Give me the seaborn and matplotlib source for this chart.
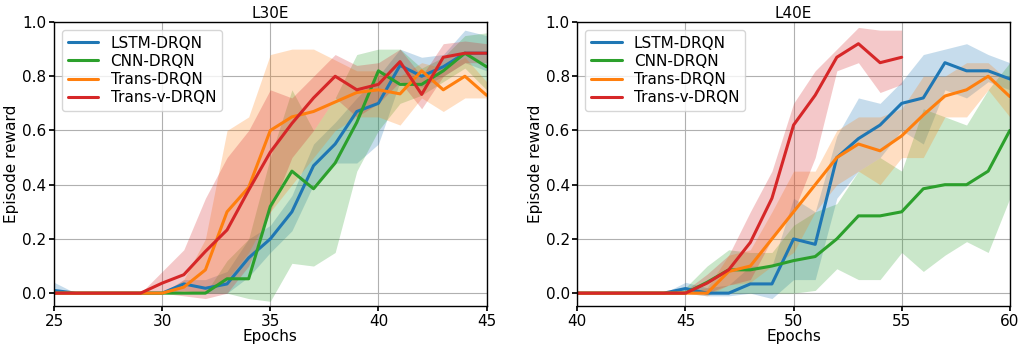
import numpy as np
import pandas as pd
import matplotlib
matplotlib.use("Agg")
import matplotlib.pyplot as plt
import seaborn as sns

# ---------------- data ----------------
series_names = ["LSTM-DRQN", "CNN-DRQN", "Trans-DRQN", "Trans-v-DRQN"]
series_colors = ["#1f77b4", "#2ca02c", "#ff7f0e", "#d62728"]

# L30E, epochs 25..45
epochs_l30 = list(range(25, 46))
lstm_l30 = [0.01, 0, 0, 0, 0, 0, 0.034, 0.018, 0.034, 0.13, 0.20, 0.30, 0.47, 0.55, 0.67, 0.70, 0.84, 0.80, 0.835, 0.885, 0.885]
lstm_l30_lo = [0.0, 0, 0, 0, 0, 0, 0.01, 0.0, 0.0, 0.06, 0.15, 0.23, 0.40, 0.48, 0.48, 0.55, 0.78, 0.76, 0.80, 0.85, 0.82]
lstm_l30_hi = [0.04, 0, 0, 0, 0, 0, 0.05, 0.05, 0.08, 0.20, 0.25, 0.36, 0.55, 0.63, 0.72, 0.80, 0.90, 0.87, 0.88, 0.97, 0.95]
cnn_l30 = [0, 0, 0, 0, 0, 0, 0, 0, 0.053, 0.053, 0.32, 0.45, 0.385, 0.48, 0.63, 0.82, 0.77, 0.77, 0.82, 0.885, 0.835]
cnn_l30_lo = [0, 0, 0, 0, 0, 0, 0, 0, 0.0, -0.02, -0.03, 0.11, 0.10, 0.15, 0.45, 0.60, 0.70, 0.73, 0.78, 0.83, 0.75]
cnn_l30_hi = [0, 0, 0, 0, 0, 0, 0, 0, 0.12, 0.20, 0.50, 0.75, 0.60, 0.72, 0.88, 0.90, 0.90, 0.83, 0.87, 0.95, 0.96]
trans_l30 = [0, 0, 0, 0, 0, 0, 0.022, 0.086, 0.30, 0.39, 0.60, 0.65, 0.67, 0.705, 0.74, 0.75, 0.735, 0.82, 0.75, 0.80, 0.73]
trans_l30_lo = [0, 0, 0, 0, 0, 0, 0.0, 0.0, 0.05, 0.15, 0.30, 0.40, 0.50, 0.60, 0.65, 0.65, 0.62, 0.72, 0.67, 0.72, 0.72]
trans_l30_hi = [0, 0, 0, 0, 0, 0, 0.05, 0.20, 0.60, 0.65, 0.88, 0.90, 0.90, 0.86, 0.82, 0.82, 0.80, 0.85, 0.83, 0.87, 0.78]
transv_l30 = [0, 0, 0, 0, 0, 0.037, 0.068, 0.154, 0.233, 0.38, 0.52, 0.626, 0.72, 0.80, 0.75, 0.77, 0.854, 0.733, 0.87, 0.885, 0.885]
transv_l30_lo = [0, 0, 0, 0, 0, 0.0, -0.01, -0.02, 0.0, 0.10, 0.30, 0.50, 0.60, 0.72, 0.65, 0.70, 0.78, 0.68, 0.80, 0.85, 0.85]
transv_l30_hi = [0, 0, 0, 0, 0, 0.08, 0.16, 0.35, 0.50, 0.60, 0.75, 0.72, 0.80, 0.88, 0.84, 0.85, 0.90, 0.80, 0.92, 0.93, 0.92]

# L40E, epochs 40..60 (Trans-v-DRQN ends at 55)
epochs_l40 = list(range(40, 61))
epochs_l40_transv = list(range(40, 56))
lstm_l40 = [0, 0, 0, 0, 0, 0.017, 0.0, 0.0, 0.034, 0.034, 0.20, 0.18, 0.50, 0.57, 0.62, 0.70, 0.72, 0.85, 0.82, 0.82, 0.79]
lstm_l40_lo = [0, 0, 0, 0, 0, 0.0, -0.01, -0.01, 0.0, -0.02, 0.05, 0.05, 0.35, 0.45, 0.50, 0.60, 0.55, 0.75, 0.72, 0.78, 0.75]
lstm_l40_hi = [0, 0, 0, 0, 0, 0.04, 0.02, 0.03, 0.10, 0.10, 0.35, 0.30, 0.58, 0.72, 0.70, 0.78, 0.88, 0.90, 0.92, 0.88, 0.85]
cnn_l40 = [0, 0, 0, 0, 0, 0, 0.04, 0.086, 0.086, 0.10, 0.12, 0.135, 0.20, 0.285, 0.285, 0.30, 0.385, 0.40, 0.40, 0.45, 0.60]
cnn_l40_lo = [0, 0, 0, 0, 0, 0, 0.0, 0.0, 0.0, 0.0, 0.0, 0.01, 0.09, 0.05, 0.05, 0.15, 0.08, 0.14, 0.19, 0.15, 0.35]
cnn_l40_hi = [0, 0, 0, 0, 0, 0.02, 0.10, 0.16, 0.15, 0.15, 0.25, 0.30, 0.33, 0.45, 0.50, 0.45, 0.68, 0.65, 0.62, 0.75, 0.85]
trans_l40 = [0, 0, 0, 0, 0, 0, 0.0, 0.08, 0.10, 0.20, 0.30, 0.40, 0.50, 0.55, 0.525, 0.58, 0.657, 0.727, 0.75, 0.80, 0.725]
trans_l40_lo = [0, 0, 0, 0, 0, 0, -0.01, 0.03, 0.04, 0.10, 0.15, 0.30, 0.40, 0.45, 0.40, 0.50, 0.50, 0.65, 0.65, 0.75, 0.65]
trans_l40_hi = [0, 0, 0, 0, 0, 0, 0.02, 0.14, 0.16, 0.30, 0.45, 0.45, 0.60, 0.65, 0.65, 0.68, 0.80, 0.80, 0.85, 0.85, 0.78]
transv_l40 = [0, 0, 0, 0, 0, 0, 0.037, 0.086, 0.187, 0.35, 0.62, 0.73, 0.87, 0.92, 0.85, 0.87]
transv_l40_lo = [0, 0, 0, 0, 0, 0, 0.0, 0.03, 0.05, 0.20, 0.30, 0.50, 0.82, 0.85, 0.74, 0.77]
transv_l40_hi = [0, 0, 0, 0, 0, 0.01, 0.07, 0.14, 0.30, 0.45, 0.70, 0.82, 0.90, 0.98, 0.97, 0.97]

panels = [
    ("L30E", (25, 45), [
        (epochs_l30, lstm_l30, lstm_l30_lo, lstm_l30_hi),
        (epochs_l30, cnn_l30, cnn_l30_lo, cnn_l30_hi),
        (epochs_l30, trans_l30, trans_l30_lo, trans_l30_hi),
        (epochs_l30, transv_l30, transv_l30_lo, transv_l30_hi),
    ]),
    ("L40E", (40, 60), [
        (epochs_l40, lstm_l40, lstm_l40_lo, lstm_l40_hi),
        (epochs_l40, cnn_l40, cnn_l40_lo, cnn_l40_hi),
        (epochs_l40, trans_l40, trans_l40_lo, trans_l40_hi),
        (epochs_l40_transv, transv_l40, transv_l40_lo, transv_l40_hi),
    ]),
]

# ---------------- plot ----------------
sns.set_theme(style="whitegrid")
plt.rcParams["font.family"] = ["DejaVu Sans"]
plt.rcParams.update({
    "axes.edgecolor": "black",
    "axes.linewidth": 1.0,
    "grid.color": "#b0b0b0",
    "grid.linewidth": 0.8,
    "xtick.bottom": True,
    "ytick.left": True,
    "xtick.major.size": 3.5,
    "ytick.major.size": 3.5,
    "xtick.color": "black",
    "ytick.color": "black",
    "axes.labelcolor": "black",
    "text.color": "black",
})

FS = 11
fig, axes = plt.subplots(1, 2, figsize=(10.2, 3.44), dpi=100)
fig.subplots_adjust(left=0.053, right=0.99, top=0.936, bottom=0.11, wspace=0.21)

for ax, (title, xlim, data) in zip(axes, panels):
    for (name, color, (ep, mean, lo, hi)) in zip(series_names, series_colors, data):
        df = pd.DataFrame({"Epochs": ep, "reward": mean})
        sns.lineplot(data=df, x="Epochs", y="reward", ax=ax, color=color,
                     linewidth=2.2, label=name)
        ax.fill_between(ep, lo, hi, color=color, alpha=0.25, linewidth=0)
    ax.set_xlim(*xlim)
    ax.set_ylim(-0.048, 1.0)
    ax.set_xticks(np.arange(xlim[0], xlim[1] + 1, 5))
    ax.set_yticks([0.0, 0.2, 0.4, 0.6, 0.8, 1.0])
    ax.set_yticklabels(["0.0", "0.2", "0.4", "0.6", "0.8", "1.0"])
    ax.tick_params(labelsize=FS, pad=2)
    ax.set_title(title, fontsize=FS, pad=3)
    ax.set_xlabel("Epochs", fontsize=FS, labelpad=0)
    ax.set_ylabel("Episode reward", fontsize=FS, labelpad=2)
    for s in ax.spines.values():
        s.set_color("black")
    ax.legend(loc="upper left", fontsize=FS, frameon=True, fancybox=True,
              framealpha=0.8, edgecolor="#cccccc", handlelength=2.0,
              borderpad=0.4, labelspacing=0.2, handletextpad=0.8)

fig.savefig("out.png", dpi=100)
